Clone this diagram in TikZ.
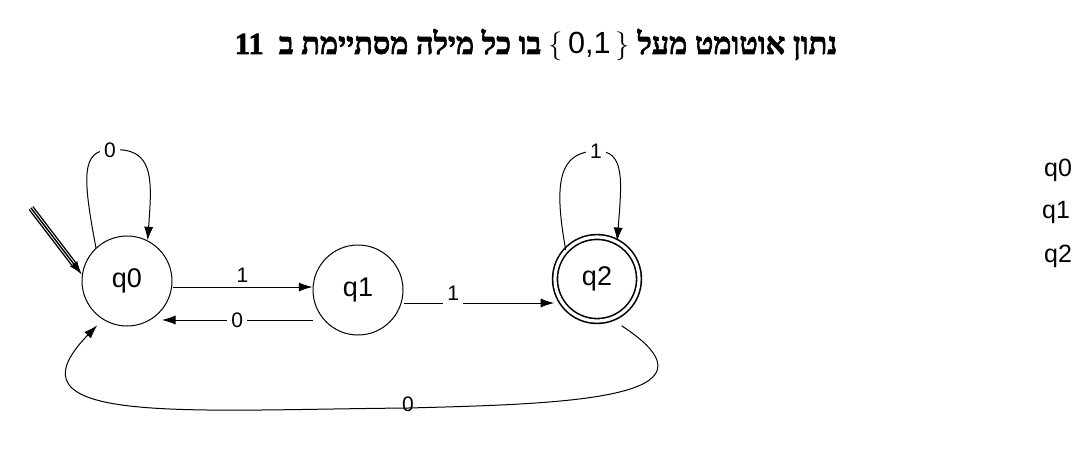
\documentclass[tikz,border=0pt]{standalone}
\usepackage{fontspec}
\setmainfont{Liberation Sans}
\newfontfamily\hebfont[Script=Hebrew,BoldFeatures={FakeBold=2}]{Liberation Serif}
\TeXXeTstate=1
\usetikzlibrary{arrows.meta}
\newcommand{\arr}{-{Latex[length=2.4mm,width=1.6mm]}}
\tikzset{
  state/.style={circle,draw,line width=.5pt,minimum size=45pt,inner sep=0pt,font=\fontsize{13.5}{15}\selectfont},
  accept/.style={state,line width=.8pt,double,double distance=1.6pt,minimum size=42pt},
  lbl/.style={font=\fontsize{10.5}{12}\selectfont,inner sep=2pt},
}

\begin{document}
\begin{tikzpicture}[x=.5pt,y=-.5pt,line width=.5pt]
\useasboundingbox (0,0) rectangle (1091,455);
\node[font=\hebfont\bfseries\fontsize{15.3}{18}\selectfont] (title) at (536,45)
  {\beginR נתון אוטומט מעל \beginL{\normalfont$\{\,$0,1$\,\}$}\endL{} בו כל מילה מסתיימת ב\ \ \beginL 11\endL\endR};
%states
\node[state] (q0) at (127,281) {q0};
\node[state] (q1) at (358,290) {q1};
\node[accept] (q2) at (597,279) {q2};
%start arrow
\coordinate (init) at (31,208);
\draw[line width=.7pt,double,double distance=1.6pt,shorten >=6pt] (init) -- (q0.172);
\draw[\arr,line width=.7pt] (init) -- (q0.172);
%loops
\draw[\arr] (q0.133) .. controls (82,175) and (82,150) .. (110,150)
  node[lbl,fill=white] (l00) {0} .. controls (155,146) and (152,180) .. (q0.63);
\draw[\arr] (q2.137) .. controls (553,180) and (560,152) .. (596,151)
  node[lbl,fill=white] (l22) {1} .. controls (625,150) and (622,180) .. (q2.62);
%transitions
\draw[\arr] (q0.east |- 0,287) -- node[lbl,above] (l01) {1} (q1.west |- 0,287);
\draw[\arr] (q1.west |- 0,320) -- node[lbl,fill=white] (l10) {0} (q0.-40 |- 0,320);
\draw[\arr] (q1.east |- 0,303) -- node[lbl,fill=white,pos=.33,yshift=5pt] (l12) {1} (q2.west |- 0,303);
\draw[\arr,shorten <=6pt,shorten >=4pt] (q2.-70) .. controls (735,400) and (560,404) .. (408,408)
  node[lbl,above,yshift=-4pt] (l20) {0} .. controls (180,410) and (0,425) .. (q0.-122);
%state list
\node[lbl,font=\fontsize{12.5}{14}\selectfont] (s0) at (1058,170) {q0};
\node[lbl,font=\fontsize{12.5}{14}\selectfont] (s1) at (1056,212) {q1};
\node[lbl,font=\fontsize{12.5}{14}\selectfont] (s2) at (1058,256) {q2};
\end{tikzpicture}
\end{document}
